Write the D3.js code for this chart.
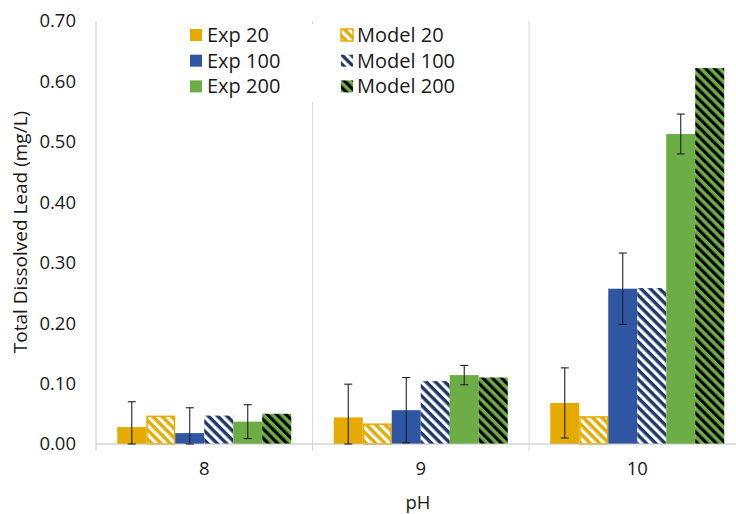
<!DOCTYPE html>
<html>
<head>
<meta charset="utf-8">
<script src="https://cdn.jsdelivr.net/npm/d3@7"></script>
<style>
  html, body { margin: 0; padding: 0; background: #ffffff; }
  svg { display: block; font-family: "Open Sans", "Noto Sans", sans-serif; }
</style>
</head>
<body>
<svg id="chart" width="736" height="514"></svg>
<script>
// ---- data ----
const categories = ["8", "9", "10"];
const seriesNames = ["Exp 20", "Model 20", "Exp 100", "Model 100", "Exp 200", "Model 200"];
const exp20 = [0.028, 0.044, 0.068];
const exp20Err = [0.042, 0.055, 0.058];
const model20 = [0.047, 0.034, 0.046];
const exp100 = [0.018, 0.056, 0.257];
const exp100Err = [0.042, 0.054, 0.059];
const model100 = [0.047, 0.104, 0.258];
const exp200 = [0.037, 0.114, 0.513];
const exp200Err = [0.028, 0.016, 0.033];
const model200 = [0.050, 0.110, 0.622];
const yTicks = [0, 0.1, 0.2, 0.3, 0.4, 0.5, 0.6, 0.7];

const seriesValues = [exp20, model20, exp100, model100, exp200, model200];
const seriesErrors = [exp20Err, null, exp100Err, null, exp200Err, null];

// ---- styles ----
const gold = "#E5AB00", blue = "#2F56A3", green = "#6DAD46", navy = "#1F386B";
const fills = ["gold", "url(#hGold)", "blue", "url(#hNavy)", "green", "url(#hGreen)"];
const solid = {gold: gold, blue: blue, green: green};

const svg = d3.select("#chart");
const defs = svg.append("defs");
function hatch(id, bg, fg) {
  const p = defs.append("pattern").attr("id", id)
    .attr("patternUnits", "userSpaceOnUse")
    .attr("width", 6.6).attr("height", 6.6)
    .attr("patternTransform", "rotate(-45)");
  p.append("rect").attr("width", 6.6).attr("height", 6.6).attr("fill", bg);
  p.append("rect").attr("width", 3.2).attr("height", 6.6).attr("fill", fg);
}
hatch("hGold", gold, "#ffffff");
hatch("hNavy", navy, "#ffffff");
hatch("hGreen", green, "#000000");

function fillOf(i) {
  const f = fills[i];
  return solid[f] || f;
}

// ---- scales ----
const x = d3.scaleBand().domain(categories).range([96, 745.5]).paddingInner(0).paddingOuter(0);
const xi = d3.scaleBand().domain(seriesNames).range([0, x.bandwidth()]).paddingInner(0).paddingOuter(0.733);
const y = d3.scaleLinear().domain([0, 0.7]).range([444, 21]);

// ---- separators ----
const seps = categories.map(c => x(c));
svg.append("g").selectAll("line").data(seps.slice(1)).join("line")
  .attr("x1", d => d).attr("x2", d => d)
  .attr("y1", y(0.7)).attr("y2", 451)
  .attr("stroke", "#D9D9D9").attr("stroke-width", 1);

// y axis line
svg.append("line").attr("x1", 96).attr("x2", 96).attr("y1", y(0.7)).attr("y2", 451)
  .attr("stroke", "#C8C8C8").attr("stroke-width", 1);

// ---- legend (white background) ----
const legend = svg.append("g");
legend.append("rect").attr("x", 180).attr("y", 24).attr("width", 290).attr("height", 78).attr("fill", "#ffffff");
[0, 1, 2].forEach(r => {
  const ly = 35 + r * 25.7;
  legend.append("rect").attr("x", 190).attr("y", ly - 6).attr("width", 12).attr("height", 12)
    .attr("fill", fillOf(r * 2));
  legend.append("text").attr("x", 207).attr("y", ly).attr("dy", "0.35em")
    .attr("font-size", 20).attr("fill", "#1a1a1a").text(seriesNames[r * 2]);
  const mi = r * 2 + 1;
  legend.append("rect").attr("x", 341).attr("y", ly - 6).attr("width", 12).attr("height", 12)
    .attr("fill", fillOf(mi))
    .attr("stroke", mi === 1 ? gold : "none").attr("stroke-width", mi === 1 ? 1.5 : 0);
  legend.append("text").attr("x", 357).attr("y", ly).attr("dy", "0.35em")
    .attr("font-size", 20).attr("fill", "#1a1a1a").text(seriesNames[mi]);
});

// ---- bars ----
const barsG = svg.append("g");
seriesValues.forEach((vals, si) => {
  const b = si === 1 ? 0.75 : 0;
  barsG.append("g").selectAll("rect").data(vals).join("rect")
    .attr("x", (d, ci) => x(categories[ci]) + xi(seriesNames[si]) + b)
    .attr("y", d => y(d) + b)
    .attr("width", xi.bandwidth() - 2 * b)
    .attr("height", d => y(0) - y(d) - b)
    .attr("fill", fillOf(si))
    .attr("stroke", si === 1 ? gold : "none")
    .attr("stroke-width", si === 1 ? 1.5 : 0);
});

// baseline
svg.append("line").attr("x1", 96).attr("x2", 736).attr("y1", y(0)).attr("y2", y(0))
  .attr("stroke", "#BFBFBF").attr("stroke-width", 1.2);

// ---- error bars ----
const errG = svg.append("g").attr("stroke", "#222").attr("stroke-width", 1.1);
seriesValues.forEach((vals, si) => {
  const errs = seriesErrors[si];
  if (!errs) return;
  vals.forEach((v, ci) => {
    const cx = x(categories[ci]) + xi(seriesNames[si]) + xi.bandwidth() / 2;
    const hi = v + errs[ci], lo = Math.max(0, v - errs[ci]);
    errG.append("line").attr("x1", cx).attr("x2", cx).attr("y1", y(hi)).attr("y2", y(lo));
    errG.append("line").attr("x1", cx - 4).attr("x2", cx + 4).attr("y1", y(hi)).attr("y2", y(hi));
    errG.append("line").attr("x1", cx - 4).attr("x2", cx + 4).attr("y1", y(lo)).attr("y2", y(lo));
  });
});

// ---- y axis ticks ----
const yAxis = d3.axisLeft(y).tickValues(yTicks).tickFormat(d3.format(".2f")).tickSize(0).tickPadding(20);
const yg = svg.append("g").attr("transform", "translate(96,0)").call(yAxis);
yg.select(".domain").remove();
yg.selectAll("text").attr("font-size", 18.5).attr("fill", "#1a1a1a").attr("font-family", "Open Sans, sans-serif");

// ---- x axis labels ----
const xAxis = d3.axisBottom(x).tickSize(0).tickPadding(18);
const xg = svg.append("g").attr("transform", "translate(0,444)").call(xAxis);
xg.select(".domain").remove();
xg.selectAll("text").attr("font-size", 18.5).attr("fill", "#1a1a1a").attr("font-family", "Open Sans, sans-serif");

// ---- titles ----
svg.append("text").attr("x", 418).attr("y", 503).attr("dy", "0.35em").attr("text-anchor", "middle")
  .attr("font-size", 18.5).attr("fill", "#1a1a1a").text("pH");
svg.append("text").attr("transform", "translate(20,232) rotate(-90)").attr("dy", "0.35em")
  .attr("text-anchor", "middle").attr("font-size", 19).attr("fill", "#1a1a1a")
  .text("Total Dissolved Lead (mg/L)");
</script>
</body>
</html>
